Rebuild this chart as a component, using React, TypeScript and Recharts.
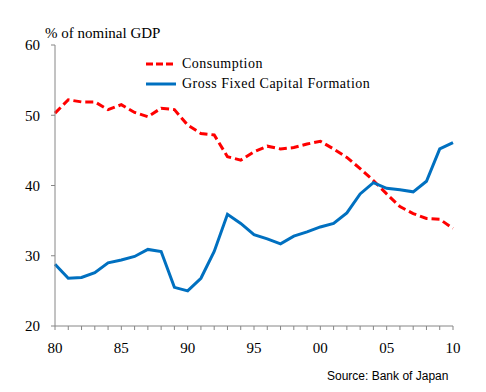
import React from 'react';
import { LineChart, Line, XAxis, YAxis } from 'recharts';

const years = [1980,1981,1982,1983,1984,1985,1986,1987,1988,1989,1990,1991,1992,1993,1994,1995,1996,1997,1998,1999,2000,2001,2002,2003,2004,2005,2006,2007,2008,2009,2010];
const consumption = [50.3,52.2,51.9,51.9,50.8,51.5,50.4,49.8,51.0,50.8,48.6,47.4,47.2,44.1,43.6,44.8,45.6,45.2,45.4,45.9,46.3,45.2,44.0,42.4,40.7,38.8,37.0,36.0,35.3,35.2,33.9];
const gfcf = [28.8,26.8,26.9,27.6,29.0,29.4,29.9,30.9,30.6,25.5,25.0,26.8,30.6,35.9,34.6,33.0,32.4,31.7,32.8,33.4,34.1,34.6,36.1,38.8,40.4,39.6,39.4,39.1,40.6,45.2,46.1];
const yTicks = [20, 30, 40, 50, 60];
const legendNames = ['Consumption', 'Gross Fixed Capital Formation'];
const yLabel = '% of nominal GDP';
const sourceText = 'Source: Bank of Japan';

const data = years.map((y, i) => ({ year: y, consumption: consumption[i], gfcf: gfcf[i] }));

const serif = '"Liberation Serif", "Times New Roman", serif';
const axisColor = '#868686';

export default function App() {
  return (
    <div style={{ position: 'fixed', left: 0, top: 0, width: 486, height: 392, background: '#fff' }}>
      <LineChart width={486} height={392} data={data} margin={{ top: 45, right: 33, left: 0, bottom: 36 }}>
        <XAxis
          dataKey="year"
          type="number"
          domain={[1980, 2010]}
          ticks={years}
          interval={0}
          height={30}
          tickSize={4}
          tickMargin={12}
          stroke={axisColor}
          tick={{ fill: '#000', fontFamily: serif, fontSize: 15 }}
          tickFormatter={(v: number) => (v % 5 === 0 ? String(v % 100).padStart(2, '0') : '')}
        />
        <YAxis
          type="number"
          domain={[20, 60]}
          ticks={yTicks}
          width={55}
          tickSize={4}
          tickMargin={11}
          stroke={axisColor}
          tick={{ fill: '#000', fontFamily: serif, fontSize: 15 }}
        />
        <Line dataKey="consumption" stroke="#FF0000" strokeWidth={3} strokeDasharray="8 4" dot={false} isAnimationActive={false} />
        <Line dataKey="gfcf" stroke="#0070C0" strokeWidth={3} dot={false} isAnimationActive={false} />
      </LineChart>
      <div style={{ position: 'absolute', left: 45, top: 25, fontFamily: serif, fontSize: 15, color: '#000', whiteSpace: 'nowrap' }}>{yLabel}</div>
      <svg style={{ position: 'absolute', left: 145, top: 54 }} width={34} height={40}>
        <line x1={1} y1={10} x2={31} y2={10} stroke="#FF0000" strokeWidth={3} strokeDasharray="7 3" />
        <line x1={1} y1={30} x2={31} y2={30} stroke="#0070C0" strokeWidth={3} />
      </svg>
      <div style={{ position: 'absolute', left: 182, top: 54, fontFamily: serif, fontSize: 14, letterSpacing: 0.5, color: '#000', whiteSpace: 'nowrap', lineHeight: '20px' }}>
        <div>{legendNames[0]}</div>
        <div>{legendNames[1]}</div>
      </div>
      <div style={{ position: 'absolute', left: 327, top: 369, fontFamily: '"Liberation Sans", Arial, sans-serif', fontSize: 12, color: '#000', whiteSpace: 'nowrap' }}>{sourceText}</div>
    </div>
  );
}
